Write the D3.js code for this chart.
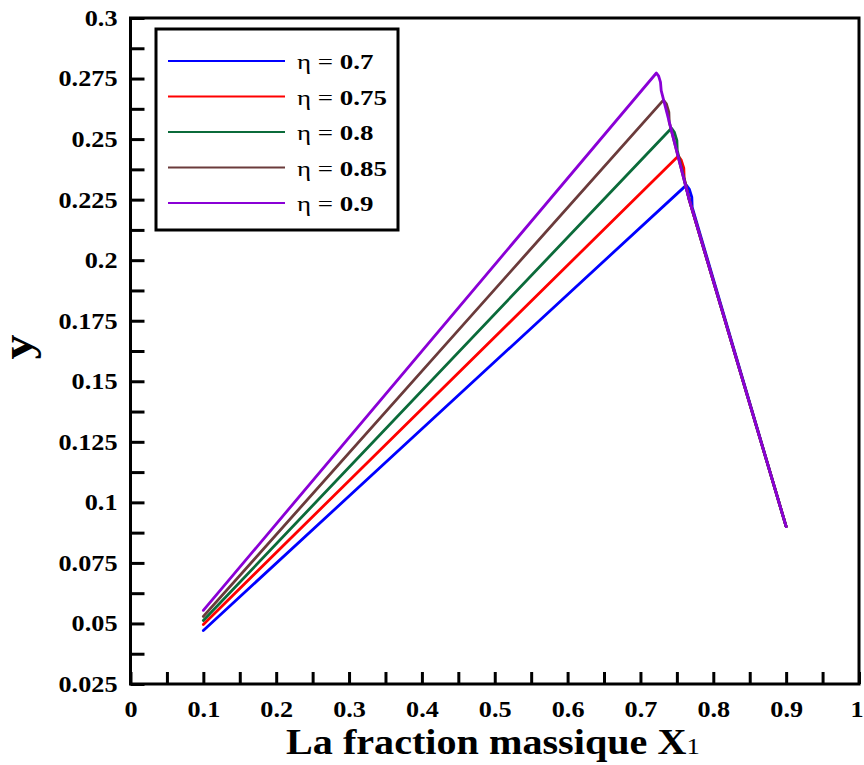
<!DOCTYPE html>
<html>
<head>
<meta charset="utf-8">
<script src="https://cdn.jsdelivr.net/npm/d3@7/dist/d3.min.js"></script>
<style>
  html, body { margin: 0; padding: 0; background: #fff; }
  svg text { font-family: "Liberation Serif", "Times New Roman", serif; }
</style>
</head>
<body>
<svg id="chart" width="864" height="765"></svg>
<script>
// η values shown in the legend
const etaLabels = ["0.7", "0.75", "0.8", "0.85", "0.9"];
const colors = ["#0000ff", "#ff0000", "#0b6b3a", "#6b3b3b", "#8a00d6"];

// each curve: rising branch from x = 0.1, rounded nose at the top, then the common falling branch
const seriesX = [
  [0.1, 0.763, 0.767, 0.7705, 0.771, 0.9],
  [0.1, 0.752, 0.756, 0.7595, 0.760, 0.7671, 0.9],
  [0.1, 0.7425, 0.7466, 0.750, 0.7505, 0.7671, 0.9],
  [0.1, 0.7315, 0.7356, 0.739, 0.7395, 0.7671, 0.9],
  [0.1, 0.7219, 0.7250, 0.7275, 0.7285, 0.7671, 0.9]
];
const seriesY = [
  [0.0471, 0.2310, 0.2294, 0.2260, 0.2219, 0.090],
  [0.0496, 0.2430, 0.2413, 0.2380, 0.2339, 0.2248, 0.090],
  [0.0512, 0.2545, 0.2528, 0.2495, 0.2454, 0.2248, 0.090],
  [0.0529, 0.2661, 0.2645, 0.2611, 0.2570, 0.2248, 0.090],
  [0.0554, 0.2773, 0.2760, 0.2735, 0.2700, 0.2248, 0.090]
];

const xTicks = [0, 0.1, 0.2, 0.3, 0.4, 0.5, 0.6, 0.7, 0.8, 0.9, 1];
const xMinorTicks = [0.05, 0.15, 0.25, 0.35, 0.45, 0.55, 0.65, 0.75, 0.85, 0.95];
const yTicks = [0.025, 0.05, 0.075, 0.1, 0.125, 0.15, 0.175, 0.2, 0.225, 0.25, 0.275, 0.3];
const yMinorTicks = [0.0375, 0.0625, 0.0875, 0.1125, 0.1375, 0.1625, 0.1875, 0.2125, 0.2375, 0.2625, 0.2875];

const svg = d3.select("#chart");
const plotL = 130.5, plotR = 859, plotT = 18, plotB = 684;

const x = d3.scaleLinear().domain([0, 1]).range([plotL, plotR]);
const y = d3.scaleLinear().domain([0.025, 0.3]).range([plotB, plotT]);

const fmt = d => String(+d.toFixed(4));

// curves
const line = d3.line().x(d => x(d[0])).y(d => y(d[1])).curve(d3.curveLinear);
seriesX.forEach((xs, i) => {
  const pts = xs.map((v, j) => [v, seriesY[i][j]]);
  svg.append("path")
    .attr("d", line(pts))
    .attr("fill", "none")
    .attr("stroke", colors[i])
    .attr("stroke-width", 2.8)
    .attr("stroke-linejoin", "round")
    .attr("stroke-linecap", "round");
});

// frame
svg.append("rect")
  .attr("x", plotL).attr("y", plotT)
  .attr("width", plotR - plotL).attr("height", plotB - plotT)
  .attr("fill", "none").attr("stroke", "#000").attr("stroke-width", 3);

// axes
const yAxis = svg.append("g").attr("transform", `translate(${plotL},0)`)
  .call(d3.axisLeft(y).tickValues(yTicks).tickFormat(fmt).tickSizeInner(-14).tickSizeOuter(0).tickPadding(0));
const yMinor = svg.append("g").attr("transform", `translate(${plotL},0)`)
  .call(d3.axisLeft(y).tickValues(yMinorTicks).tickFormat("").tickSizeInner(-14).tickSizeOuter(0));
const xAxis = svg.append("g").attr("transform", `translate(0,${plotB})`)
  .call(d3.axisBottom(x).tickValues(xTicks).tickFormat(fmt).tickSizeInner(-12).tickSizeOuter(0).tickPadding(17));
const xMinor = svg.append("g").attr("transform", `translate(0,${plotB})`)
  .call(d3.axisBottom(x).tickValues(xMinorTicks).tickFormat("").tickSizeInner(-12).tickSizeOuter(0));

[yAxis, yMinor, xAxis, xMinor].forEach(g => {
  g.attr("font-family", null).attr("font-size", null);
  g.select(".domain").remove();
  g.selectAll(".tick line").attr("stroke", "#000").attr("stroke-width", 3);
  g.selectAll(".tick text")
    .attr("fill", "#000")
    .attr("font-size", 23)
    .attr("font-weight", "bold");
});

// horizontal scale that gives a text element the wanted width
function widthScale(node, target) {
  return target / node.getComputedTextLength();
}

// tick lettering: wide bold serif, "0.275" spans about 59 px
const refTick = yAxis.selectAll(".tick text").filter(d => d === 0.275).node();
const kTick = widthScale(refTick, 59);
yAxis.selectAll(".tick text")
  .attr("x", null)
  .attr("transform", `translate(-13,0) scale(${kTick},1)`);
xAxis.selectAll(".tick text")
  .attr("transform", d => `translate(${d === 1 ? -2.5 : 0},0) scale(${kTick},1)`);

// axis titles
const xTitle = svg.append("text")
  .attr("font-size", 36).attr("font-weight", "bold").attr("fill", "#000");
xTitle.append("tspan").text("La fraction massique X");
xTitle.append("tspan").attr("font-size", 24).attr("font-weight", "normal").text("1");
const kTitle = widthScale(xTitle.node(), 414);
xTitle.attr("transform", `translate(286,754) scale(${kTitle},1)`);

svg.append("text")
  .attr("transform", `translate(32,347) rotate(-90) scale(${kTick},1)`)
  .attr("text-anchor", "middle")
  .attr("font-size", 44).attr("font-weight", "bold").attr("fill", "#000")
  .text("y");

// legend
const lg = svg.append("g");
lg.append("rect")
  .attr("x", 156).attr("y", 29).attr("width", 242).attr("height", 201)
  .attr("fill", "#fff").attr("stroke", "#000").attr("stroke-width", 3);
let kLegend = null;
etaLabels.forEach((lab, i) => {
  const cy = 61 + i * 35.5;
  lg.append("line")
    .attr("x1", 168).attr("x2", 285).attr("y1", cy).attr("y2", cy)
    .attr("stroke", colors[i]).attr("stroke-width", 2.2);
  const t = lg.append("text")
    .attr("font-size", 22).attr("fill", "#000");
  t.append("tspan").text("η = ");
  t.append("tspan").attr("font-weight", "bold").text(lab);
  if (lab === "0.75") kLegend = widthScale(t.node(), 90);
  t.attr("class", "legend-label").attr("data-cy", cy);
});
lg.selectAll(".legend-label").each(function () {
  const cy = +this.getAttribute("data-cy");
  d3.select(this).attr("transform", `translate(297,${cy + 8}) scale(${kLegend},1)`);
});
</script>
</body>
</html>
